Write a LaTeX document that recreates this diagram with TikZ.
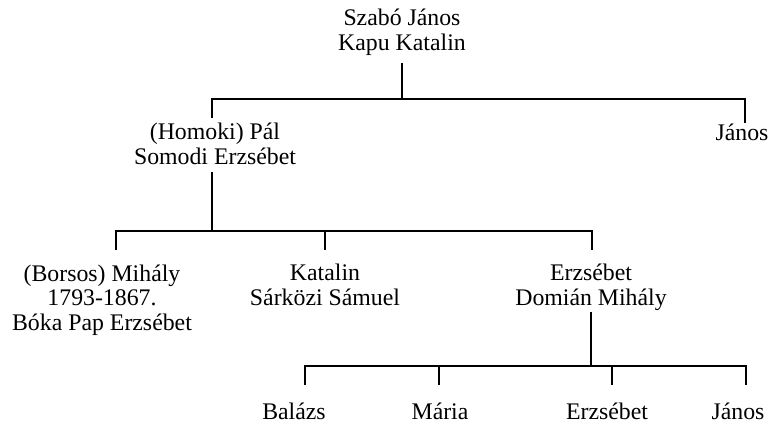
\documentclass[tikz,border=0pt]{standalone}
\usepackage{fontspec}
\setmainfont{Liberation Serif}
\begin{document}
\begin{tikzpicture}[x=1pt,y=-1pt,
  ln/.style={line width=1.8pt},
  leaf/.style={inner sep=0pt,anchor=base,font=\fontsize{23.8}{24.5}\selectfont},
  person/.style={leaf,align=center}]
\useasboundingbox (0,0) rectangle (768,423);
% nodes (anchor = baseline of the last line)
\node[person] (top) at (402,50) {Szabó János\\Kapu Katalin};
\node[person] (homoki) at (215,164) {(Homoki) Pál\\Somodi Erzsébet};
\node[leaf] (janosA) at (742,140) {János};
\node[person] (borsos) at (102,330) {(Borsos) Mihály\\1793-1867.\\Bóka Pap Erzsébet};
\node[person] (katalin) at (325,305) {Katalin\\Sárközi Sámuel};
\node[person] (erzsA) at (591,305) {Erzsébet\\Domián Mihály};
\node[leaf] (balazs) at (294,419) {Balázs};
\node[leaf] (maria) at (440,419) {Mária};
\node[leaf] (erzsB) at (607,419) {Erzsébet};
\node[leaf] (janosB) at (738,419) {János};
% junctions
\coordinate (j0) at (402,99);
\coordinate (d0a) at (212,118);
\coordinate (d0b) at (745,123);
\coordinate (j1) at (212,231);
\coordinate (d1a) at (116,250);
\coordinate (d1b) at (325,250);
\coordinate (d1c) at (592,250);
\coordinate (j2) at (591,366);
\coordinate (d2a) at (305,385);
\coordinate (d2b) at (439,385);
\coordinate (d2c) at (612,385);
\coordinate (d2d) at (746,385);
% connectors
\draw[ln] ([yshift=-8pt]top.south) -- (j0);
\draw[ln] (d0a) |- (j0) -| (d0b);
\draw[ln] ([xshift=-3pt,yshift=-8pt]homoki.south) -- (j1);
\draw[ln] (d1a) |- (j1) -| (d1c);
\draw[ln] (d1b |- j1) -- (d1b);
\draw[ln] ([yshift=-2pt]erzsA.south) -- (j2);
\draw[ln] (d2a) |- (j2) -| (d2d);
\draw[ln] (d2b |- j2) -- (d2b);
\draw[ln] (d2c |- j2) -- (d2c);
\end{tikzpicture}
\end{document}
